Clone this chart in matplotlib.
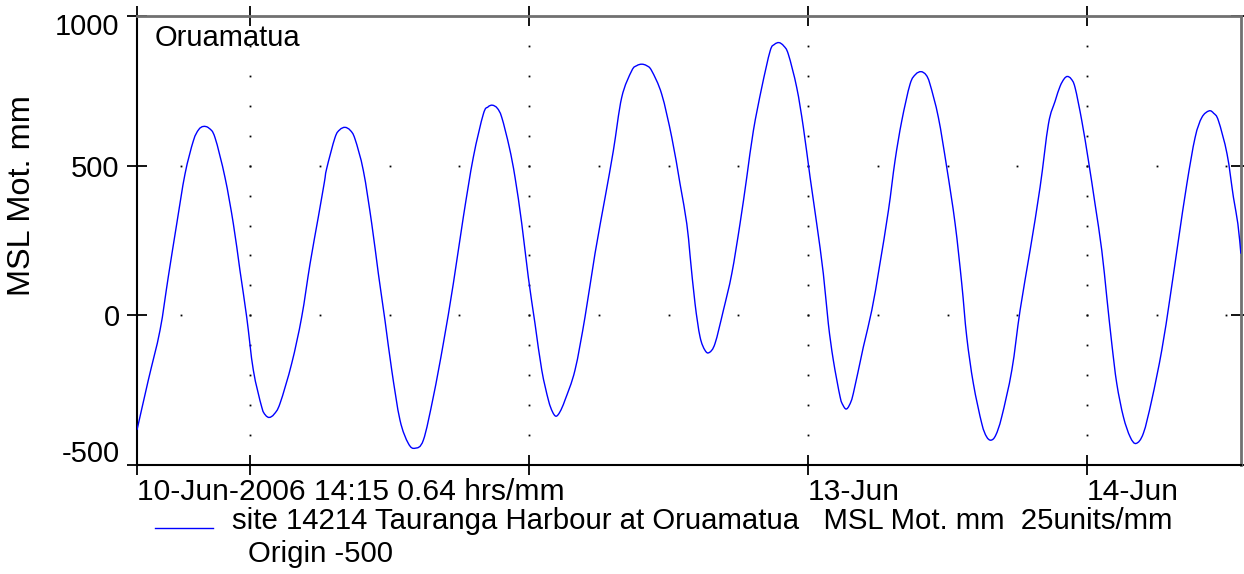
import numpy as np
import matplotlib
matplotlib.use('Agg')
import matplotlib.pyplot as plt
from matplotlib.lines import Line2D
from matplotlib.path import Path
from matplotlib.patches import PathPatch
import matplotlib.transforms as mtransforms

plt.rcParams['font.family'] = ['Liberation Sans', 'DejaVu Sans']

# hours since 10-Jun-2006 14:15
hours = [0.00, 0.97, 1.98, 2.69, 3.42, 4.13, 4.85, 5.30, 5.71, 6.20, 6.71, 7.57, 8.29, 8.86,
         9.44, 10.01, 10.73, 11.05, 11.39, 11.80, 12.31, 13.31, 14.17, 14.89, 15.60, 16.12,
         16.32, 17.04, 17.45, 17.90, 18.35, 18.76, 19.48, 20.20, 20.77, 21.34, 21.92, 22.63,
         23.35, 23.92, 24.64, 25.50, 26.36, 27.22, 28.08, 28.94, 29.80, 30.20, 30.58, 31.00,
         31.39, 32.04, 32.53, 33.11, 33.67, 34.25, 34.83, 35.40, 35.75, 36.06, 36.40, 36.83,
         37.69, 38.55, 39.41, 40.28, 40.99, 41.71, 42.57, 43.00, 43.43, 43.86, 44.29, 45.15,
         46.02, 46.73, 47.31, 47.59, 48.02, 48.45, 48.88, 49.25, 49.74, 50.46, 51.18, 51.89,
         52.47, 53.04, 53.76, 54.48, 54.85, 55.25, 55.65, 56.05, 56.77, 57.34, 57.92, 58.49,
         59.06, 59.49, 59.92, 60.50, 60.75, 61.02, 61.30, 61.64, 62.50, 63.23, 63.88, 64.66,
         65.23, 65.81, 66.52, 67.00, 67.47, 67.90, 68.24, 68.96, 69.68, 70.40, 70.97, 71.40,
         71.97, 72.69, 73.10, 73.49, 73.90, 74.41, 75.28, 75.99, 76.85, 77.71, 78.43, 79.00,
         79.43, 79.78, 80.06, 80.38, 80.72, 81.30, 81.87, 82.44, 83.02, 83.45, 83.88, 84.31, 84.88,
         85.46, 85.97, 86.60, 87.32, 88.18, 88.90, 89.61, 90.34, 91.05, 91.63, 92.25, 92.65,
         93.06, 93.80, 94.35, 94.73, 94.99]
level_mm = [-383, -217, -50, 128, 306, 472, 583, 620, 631, 625, 594, 461, 306, 150,
            -6, -183, -306, -333, -341, -330, -294, -161, -6, 172, 328, 444,
            490, 594, 620, 628, 618, 589, 483, 306, 139, -17, -183, -350,
            -428, -444, -417, -272, -94, 106, 328, 528, 672, 696, 702, 692,
            661, 561, 461, 306, 128, -28, -183, -283, -322, -337, -322, -283,
            -183, -6, 206, 394, 550, 728, 817, 834, 839, 834, 817, 739,
            594, 439, 306, 200, 39, -72, -117, -124, -94, 17, 139, 306,
            461, 617, 761, 883, 905, 911, 900, 872, 761, 628, 461, 306,
            139, -28, -150, -272, -300, -313, -300, -261, -106, 17, 161, 350,
            517, 650, 772, 805, 814, 803, 772, 661, 494, 306, 106, -72,
            -228, -361, -405, -417, -400, -339, -183, 17, 217, 428, 639, 715,
            765, 790, 798, 790, 761, 650, 517, 372, 217, 61, -94, -228, -339,
            -406, -428, -394, -283, -117, 61, 250, 439, 594, 661, 683, 675,
            650, 539, 394, 306, 206]

x_tick_hours = [0, 9.75, 33.75, 57.75, 81.75]
x_tick_labels = ['10-Jun-2006 14:15 0.64 hrs/mm', '', '', '13-Jun', '14-Jun']
y_ticks = [-500, 0, 500, 1000]
y_tick_labels = ['-500', '0', '500', '1000']
x_end = 95.0
y_lo, y_hi = -500, 1000

site_title = 'Oruamatua'
y_label = 'MSL Mot. mm'
legend_line1 = 'site 14214 Tauranga Harbour at Oruamatua   MSL Mot. mm  25units/mm'
legend_line2 = 'Origin -500'

W, H = 1244, 574
fig = plt.figure(figsize=(W / 100, H / 100), dpi=100)
ax = fig.add_axes([137 / W, (H - 465) / H, 1104 / W, 449 / H])


def smooth_path(xs, ys):
    """Catmull-Rom curve through the read points, drawn as cubic Bezier segments."""
    p = np.column_stack([xs, ys]).astype(float)
    ext = np.vstack([p[0], p, p[-1]])
    verts = [p[0]]
    codes = [Path.MOVETO]
    for i in range(1, len(ext) - 2):
        p0, p1, p2, p3 = ext[i - 1], ext[i], ext[i + 1], ext[i + 2]
        verts += [p1 + (p2 - p0) / 6.0, p2 - (p3 - p1) / 6.0, p2]
        codes += [Path.CURVE4] * 3
    return Path(verts, codes)


ax.add_patch(PathPatch(smooth_path(hours, level_mm), facecolor='none',
                       edgecolor='#0000ff', lw=1.0, zorder=3))
ax.set_xlim(0, x_end)
ax.set_ylim(y_lo, y_hi)

# dotted grid: day lines with dots every 100 mm, level lines with dots every 6 h
day_lines = x_tick_hours[1:]
dot_levels = np.arange(y_lo + 100, y_hi, 100)
gx, gy = np.meshgrid(day_lines, dot_levels)
ax.plot(gx.ravel(), gy.ravel(), ls='none', marker='s', ms=1.3, mew=0, color='black')
six_h = np.arange(x_tick_hours[1] - 6, x_end, 6)
for lvl in [0, 500]:
    ax.plot(six_h, np.full_like(six_h, lvl), ls='none', marker='s', ms=1.3, mew=0, color='black')

ax.set_xticks(x_tick_hours)
ax.set_xticklabels(x_tick_labels, ha='left')
ax.set_yticks(y_ticks)
ax.set_yticklabels(y_tick_labels)
ax.tick_params(axis='both', direction='inout', length=15, width=1.3, color='black',
               labelsize=21, top=True, right=True)
ax.tick_params(axis='x', pad=2, labelsize=21.6)
ax.tick_params(axis='y', pad=5)

for lab in ax.get_yticklabels():
    t = lab.get_text()
    if t == '1000':
        lab.set_transform(lab.get_transform() + mtransforms.ScaledTranslation(0, -0.08, fig.dpi_scale_trans))
    elif t == '-500':
        lab.set_transform(lab.get_transform() + mtransforms.ScaledTranslation(0, 0.14, fig.dpi_scale_trans))

ax.spines['left'].set_color('black')
ax.spines['bottom'].set_color('black')
ax.spines['left'].set_linewidth(1.5)
ax.spines['bottom'].set_linewidth(1.5)
ax.spines['top'].set_color('#707070')
ax.spines['right'].set_color('#707070')
ax.spines['top'].set_linewidth(2)
ax.spines['right'].set_linewidth(2)

ax.text(18 / 1104, 1 - 30 / 449, site_title, transform=ax.transAxes, fontsize=21,
        ha='left', va='baseline')

fig.text(22 / W, 1 - 196 / H, y_label, rotation=90, ha='center', va='center', fontsize=23.4)

# legend
fig.add_artist(Line2D([155 / W, 213 / W], [1 - 528 / H, 1 - 528 / H], color='#0000ff', lw=1.0))
fig.text(232 / W, 1 - 521 / H, legend_line1, ha='left', va='center', fontsize=21.2)
fig.text(248 / W, 1 - 554 / H, legend_line2, ha='left', va='center', fontsize=21.2)

fig.savefig('out.png', dpi=100)
